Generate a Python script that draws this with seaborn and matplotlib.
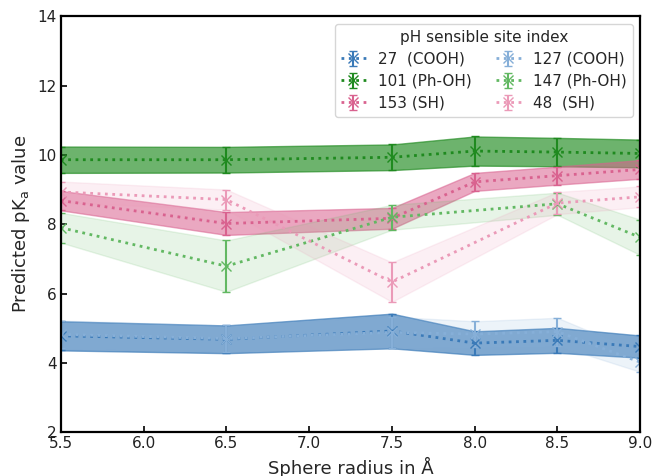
import numpy as np
import matplotlib
matplotlib.use('agg')
import matplotlib.pyplot as plt
import seaborn as sns

### sphere radii
radius = [5.5, 6.5, 7.5, 8.0, 8.5, 9.0]

### predicted pKa (mean) and spread per site, nan = no prediction
pka_27 = [4.78, 4.68, 4.92, 4.57, 4.65, 4.47]
sd_27 = [0.42, 0.40, 0.50, 0.34, 0.36, 0.32]
pka_127 = [4.82, 4.70, 4.88, 4.83, 4.90, 4.02]
sd_127 = [0.40, 0.38, 0.45, 0.37, 0.40, 0.28]
pka_101 = [9.86, 9.86, 9.93, 10.11, 10.08, 10.04]
sd_101 = [0.38, 0.37, 0.37, 0.42, 0.41, 0.40]
pka_147 = [7.90, 6.79, 8.20, np.nan, 8.59, 7.62]
sd_147 = [0.43, 0.74, 0.36, np.nan, 0.32, 0.51]
pka_153 = [8.68, 8.02, 8.17, 9.22, 9.40, 9.58]
sd_153 = [0.28, 0.33, 0.30, 0.26, 0.26, 0.27]
pka_48 = [8.93, 8.71, 6.33, np.nan, 8.61, 8.79]
sd_48 = [0.30, 0.29, 0.57, np.nan, 0.32, 0.30]

labels = ['27  (COOH)', '101 (Ph-OH)', '153 (SH)', '127 (COOH)', '147 (Ph-OH)', '48  (SH)']
means = [pka_27, pka_101, pka_153, pka_127, pka_147, pka_48]
sds = [sd_27, sd_101, sd_153, sd_127, sd_147, sd_48]
colors = ['#3a7ab8', '#1f8a1f', '#d9628f', '#86afd8', '#62b862', '#eb9ab8']
band_alpha = [0.65, 0.65, 0.55, 0.15, 0.15, 0.15]

sns.set_style('ticks')
plt.rcParams['font.family'] = ['DejaVu Sans']

fig = plt.figure(figsize=(6.54, 4.76), dpi=100)
ax = fig.add_axes([0.093, 0.092, 0.886, 0.874])

for m, s, c, a, lab in zip(means, sds, colors, band_alpha, labels):
    m = np.array(m)
    s = np.array(s)
    ok = np.isfinite(m)  # skip radii without a prediction
    x = np.array(radius)[ok]
    ax.fill_between(x, m[ok] - s[ok], m[ok] + s[ok], color=c, alpha=a, linewidth=1)
    ax.errorbar(x, m[ok], yerr=s[ok], fmt='x', linestyle=':', linewidth=2, color=c,
                markersize=7, capsize=3, elinewidth=1.5, label=lab)

ax.set_xlim(5.5, 9.0)
ax.set_ylim(2, 14)
ax.set_yticks([2, 4, 6, 8, 10, 12, 14])
ax.set_xticks([5.5, 6.0, 6.5, 7.0, 7.5, 8.0, 8.5, 9.0])
ax.tick_params(direction='in', labelsize=11, length=4, width=1.2, pad=3,
               colors='black', labelcolor='#222222')
for sp in ax.spines.values():
    sp.set_linewidth(1.6)
    sp.set_color('black')
ax.set_xlabel('Sphere radius in Å', fontsize=13)
ax.set_ylabel('Predicted pK$_\\mathrm{a}$ value', fontsize=13)

leg = ax.legend(title='pH sensible site index', ncol=2, loc='upper right',
                fontsize=11, title_fontsize=11, columnspacing=1.6,
                handlelength=1.6, handletextpad=0.8, labelspacing=0.45,
                borderaxespad=0.5)

plt.savefig('out.png', dpi=100)
plt.close(fig)
